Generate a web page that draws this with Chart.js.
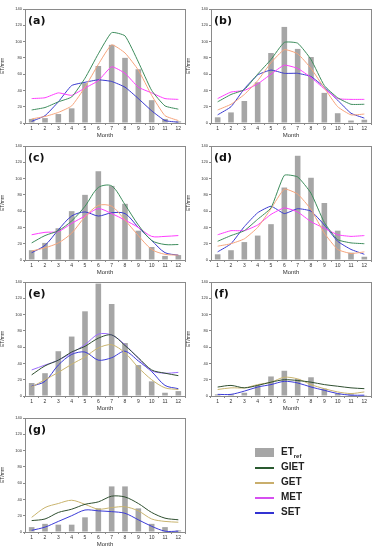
<!DOCTYPE html>
<html>
<head>
<meta charset="utf-8">
<script src="https://cdn.jsdelivr.net/npm/chart.js@4/dist/chart.umd.min.js"></script>
<style>
  body { margin: 0; background: #fff; width: 377px; height: 550px; position: relative; overflow: hidden; }
  .cell { position: absolute; width: 188px; height: 139px; }
  .legend { position: absolute; left: 255px; top: 446px; font: bold 10px "Liberation Sans", Arial, sans-serif; color: #222; }
  .legend div { position: relative; height: 15px; }
  .legend .sw { position: absolute; left: 0; width: 19px; }
  .legend span.t { position: absolute; left: 26px; top: 0; }
  .legend sub { font-size: 6px; }
</style>
</head>
<body>
<div class="cell" style="left:0;top:0"><canvas id="pa" width="188" height="139"></canvas></div>
<div class="cell" style="left:186px;top:0"><canvas id="pb" width="188" height="139"></canvas></div>
<div class="cell" style="left:0;top:137px"><canvas id="pc" width="188" height="139"></canvas></div>
<div class="cell" style="left:186px;top:137px"><canvas id="pd" width="188" height="139"></canvas></div>
<div class="cell" style="left:0;top:273px"><canvas id="pe" width="188" height="139"></canvas></div>
<div class="cell" style="left:186px;top:273px"><canvas id="pf" width="188" height="139"></canvas></div>
<div class="cell" style="left:0;top:409px"><canvas id="pg" width="188" height="139"></canvas></div>

<div class="legend">
  <div><span class="sw" style="top:2px;height:9px;background:#a6a6a6"></span><span class="t">ET<sub>ref</sub></span></div>
  <div><span class="sw" style="top:6px;height:2px;background:#2a5a30"></span><span class="t">GIET</span></div>
  <div><span class="sw" style="top:6px;height:2px;background:#c9ae6c"></span><span class="t">GET</span></div>
  <div><span class="sw" style="top:6px;height:2px;background:#d64ff0"></span><span class="t">MET</span></div>
  <div><span class="sw" style="top:6px;height:2px;background:#3232d2"></span><span class="t">SET</span></div>
</div>

<script>
const months = ['1', '2', '3', '4', '5', '6', '7', '8', '9', '10', '11', '12'];

// (a)
const etrefA = [5, 6, 11, 18, 49, 70, 96, 80, 66, 28, 5, 2];
const gietA = [16, 19, 26, 32, 55, 85, 111, 107, 75, 40, 21, 17];
const getA = [5, 8, 13, 21, 44, 72, 96, 86, 65, 34, 9, 3];
const metA = [30, 31, 37, 34, 43, 52, 69, 61, 44, 37, 30, 29];
const setA = [2, 9, 26, 46, 50, 53, 51, 44, 30, 15, 3, 1];

// (b)
const etrefB = [7, 13, 27, 50, 86, 118, 91, 81, 37, 12, 3, 4];
const gietB = [26, 35, 41, 60, 78, 99, 98, 78, 46, 31, 23, 23];
const getB = [16, 23, 35, 52, 74, 90, 85, 67, 43, 20, 10, 11];
const metB = [30, 38, 40, 48, 60, 71, 67, 56, 42, 30, 29, 29];
const setB = [10, 20, 42, 59, 65, 61, 61, 57, 44, 28, 12, 6];

// (c)
const etrefC = [12, 21, 39, 60, 80, 109, 91, 69, 36, 16, 5, 6];
const gietC = [21, 30, 36, 48, 66, 89, 91, 68, 43, 24, 19, 19];
const getC = [11, 15, 21, 33, 53, 67, 66, 49, 30, 13, 7, 6];
const metC = [31, 34, 35, 45, 54, 63, 57, 49, 40, 29, 29, 30];
const setC = [9, 18, 37, 54, 59, 54, 58, 57, 40, 24, 9, 6];

// (d)
const etrefD = [7, 12, 22, 30, 44, 89, 128, 101, 70, 36, 9, 4];
const gietD = [23, 30, 36, 50, 64, 104, 102, 82, 46, 25, 21, 20];
const getD = [17, 20, 26, 40, 63, 87, 81, 62, 33, 13, 8, 10];
const metD = [31, 36, 36, 43, 56, 64, 59, 47, 39, 31, 29, 30];
const setD = [10, 20, 41, 58, 66, 57, 63, 60, 43, 23, 13, 7];

// (e)
const etrefE = [16, 28, 55, 73, 104, 138, 113, 65, 38, 18, 4, 6];
const gietE = [26, 37, 44, 54, 61, 71, 75, 62, 47, 32, 28, 25];
const getE = [11, 20, 29, 39, 48, 59, 63, 53, 35, 20, 10, 8];
const metE = [32, 38, 44, 53, 63, 76, 75, 63, 46, 31, 28, 29];
const setE = [12, 18, 38, 51, 54, 44, 47, 55, 43, 30, 13, 9];

// (f)
const etrefF = [2, 2, 4, 13, 24, 31, 21, 23, 9, 3, 2, 1];
const gietF = [11, 13, 10, 13, 17, 20, 19, 17, 14, 12, 10, 9];
const getF = [8, 10, 10, 14, 17, 23, 21, 14, 9, 5, 3, 5];
const setF = [2, 2, 6, 11, 14, 18, 16, 11, 7, 3, 1, 1];

// (g)
const etrefG = [6, 10, 9, 9, 18, 29, 56, 56, 29, 10, 6, 2];
const gietG = [14, 16, 24, 28, 34, 37, 44, 43, 35, 24, 17, 15];
const getG = [18, 30, 35, 39, 34, 28, 30, 31, 26, 16, 13, 12];
const setG = [2, 6, 13, 20, 27, 26, 25, 23, 15, 7, 1, 1];

const yTicks = [0, 20, 40, 60, 80, 100, 120, 140];

const colorsTop = { giet: '#3d8c5c', get: '#f6a47c', met: '#ff3cff', set: '#3a3ad0' };
const colorsBottom = { giet: '#2f4f30', get: '#c9b46e', met: '#9c6cff', set: '#3b3bd8' };

const frame = {
  id: 'frame',
  afterDraw(chart, args, opts) {
    const { ctx, chartArea: a } = chart;
    ctx.save();
    ctx.strokeStyle = '#8a8a8a';
    ctx.lineWidth = 1;
    ctx.strokeRect(Math.round(a.left) + 0.5, Math.round(a.top) + 0.5,
      Math.round(a.right - a.left), Math.round(a.bottom - a.top));
    ctx.fillStyle = '#111';
    ctx.font = 'bold 11px "DejaVu Sans", sans-serif';
    ctx.textBaseline = 'top';
    ctx.fillText(opts.label, a.left + 3, a.top + 7);
    ctx.restore();
  },
};

function lineSet(label, data, color, tension) {
  return {
    type: 'line', label, data,
    borderColor: color, backgroundColor: color,
    borderWidth: 1, pointRadius: 0, tension, order: 1,
  };
}

function makePanel(id, label, etref, giet, get, met, set, colors, tension) {
  const datasets = [
    {
      type: 'bar', label: 'ETref', data: etref,
      backgroundColor: '#a6a6a6', barPercentage: 0.42, categoryPercentage: 1, order: 2,
    },
    lineSet('GIET', giet, colors.giet, tension),
    lineSet('GET', get, colors.get, tension),
  ];
  if (met) datasets.push(lineSet('MET', met, colors.met, tension));
  datasets.push(lineSet('SET', set, colors.set, tension));

  return new Chart(document.getElementById(id), {
    data: { labels: months, datasets },
    options: {
      responsive: false,
      animation: false,
      devicePixelRatio: 1,
      layout: { padding: { top: 9, right: 3, left: 0, bottom: 0 } },
      plugins: { legend: { display: false }, tooltip: { enabled: false }, frame: { label } },
      scales: {
        x: {
          offset: true,
          grid: { drawOnChartArea: false, tickLength: 2, color: '#8a8a8a' },
          border: { color: '#8a8a8a' },
          ticks: { font: { size: 5 }, color: '#333', padding: 1, maxRotation: 0 },
          title: { display: true, text: 'Month', font: { size: 6 }, color: '#333', padding: { top: 1, bottom: 0 } },
          afterFit: (s) => { s.height = 16; },
        },
        y: {
          min: 0, max: 140,
          afterBuildTicks: (s) => { s.ticks = yTicks.map((v) => ({ value: v })); },
          grid: { drawOnChartArea: false, tickLength: 2, color: '#8a8a8a' },
          border: { color: '#8a8a8a' },
          ticks: { font: { size: 4 }, color: '#333', padding: 1 },
          title: { display: true, text: 'ET/mm', font: { size: 5 }, color: '#333', padding: 0 },
          afterFit: (s) => { s.width = 25; },
        },
      },
    },
    plugins: [frame],
  });
}

makePanel('pa', '(a)', etrefA, gietA, getA, metA, setA, colorsTop, 0.15);
makePanel('pb', '(b)', etrefB, gietB, getB, metB, setB, colorsTop, 0.15);
makePanel('pc', '(c)', etrefC, gietC, getC, metC, setC, colorsTop, 0.3);
makePanel('pd', '(d)', etrefD, gietD, getD, metD, setD, colorsTop, 0.15);
makePanel('pe', '(e)', etrefE, gietE, getE, metE, setE, colorsBottom, 0.3);
makePanel('pf', '(f)', etrefF, gietF, getF, null, setF, colorsBottom, 0.3);
makePanel('pg', '(g)', etrefG, gietG, getG, null, setG, colorsBottom, 0.3);
</script>
</body>
</html>
